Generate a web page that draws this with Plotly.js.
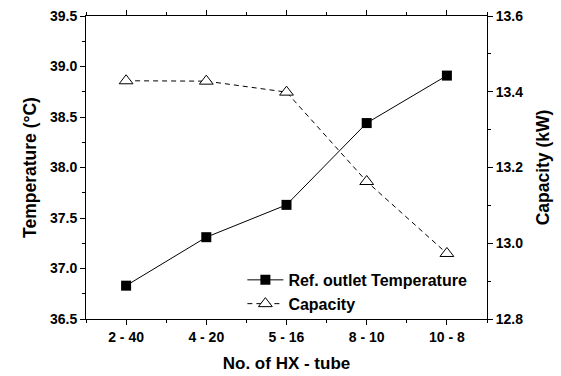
<!DOCTYPE html>
<html>
<head>
<meta charset="utf-8">
<script src="https://cdn.plot.ly/plotly-3.0.1.min.js"></script>
<style>html,body{margin:0;padding:0;background:#fff;}#chart{width:561px;height:376px;}</style>
</head>
<body>
<div id="chart"></div>
<script>
const categories = ["2 - 40", "4 - 20", "5 - 16", "8 - 10", "10 - 8"];
const refOutletTemperature = [36.83, 37.31, 37.63, 38.44, 38.91];
const capacity = [13.429, 13.428, 13.399, 13.163, 12.973];
const tempTickVals = [36.5, 37.0, 37.5, 38.0, 38.5, 39.0, 39.5];
const capTickVals = [12.8, 13.0, 13.2, 13.4, 13.6];

const FONT = "Liberation Sans, Arial, sans-serif";

const traces = [
  {
    x: categories, y: refOutletTemperature, name: "Ref. outlet Temperature",
    type: "scatter", mode: "lines+markers",
    line: {color: "#000", width: 1},
    marker: {symbol: "square", size: 10, color: "#000"},
    xaxis: "x", yaxis: "y"
  },
  {
    x: categories, y: capacity, name: "Capacity",
    type: "scatter", mode: "lines+markers",
    line: {color: "#000", width: 1, dash: "5px,4px"},
    marker: {symbol: "triangle-up", size: 12, color: "#fff", line: {color: "#000", width: 1}},
    xaxis: "x", yaxis: "y2"
  },
  {
    x: categories, y: refOutletTemperature, showlegend: false, hoverinfo: "skip",
    type: "scatter", mode: "markers", marker: {opacity: 0},
    xaxis: "x2", yaxis: "y"
  }
];

const layout = {
  width: 561, height: 376,
  margin: {l: 86, r: 74, t: 16, b: 57},
  paper_bgcolor: "#fff", plot_bgcolor: "#fff",
  font: {family: FONT, color: "#000"},
  showlegend: true,
  legend: {
    x: 0.39, y: 0.185, xanchor: "left", yanchor: "top",
    bgcolor: "rgba(0,0,0,0)", borderwidth: 0,
    itemwidth: 36,
    font: {family: FONT, size: 16, color: "#000", weight: "bold"},
    tracegroupgap: 0
  },
  xaxis: {
    type: "category", categoryorder: "array", categoryarray: categories,
    range: [-0.5, 4.5],
    showline: true, linecolor: "#000", linewidth: 1, mirror: "ticks",
    ticks: "outside", ticklen: 5, tickcolor: "#000", tickwidth: 1,
    showgrid: false, zeroline: false,
    tickfont: {family: FONT, size: 14, weight: "bold"},
    title: {text: "No. of HX - tube", font: {family: FONT, size: 17, weight: "bold"}, standoff: 13}
  },
  xaxis2: {
    type: "category", categoryorder: "array", categoryarray: categories,
    overlaying: "x", anchor: "y", side: "bottom",
    range: [-0.5, 4.5], tickson: "boundaries",
    showline: false, mirror: "ticks", ticks: "outside", ticklen: 3, tickcolor: "#000", tickwidth: 1,
    showticklabels: false, showgrid: false, zeroline: false
  },
  yaxis: {
    range: [36.5, 39.5], tickvals: tempTickVals, tickformat: ".1f",
    showline: true, linecolor: "#000", linewidth: 1, mirror: true,
    ticks: "outside", ticklen: 5, tickcolor: "#000", tickwidth: 1,
    minor: {dtick: 0.25, ticks: "outside", ticklen: 3, tickcolor: "#000", showgrid: false},
    showgrid: false, zeroline: false,
    tickfont: {family: FONT, size: 14, weight: "bold"},
    title: {text: "Temperature (°C)", font: {family: FONT, size: 17.5, weight: "bold"}, standoff: 8}
  },
  yaxis2: {
    overlaying: "y", side: "right", anchor: "x",
    range: [12.8, 13.6], tickvals: capTickVals, tickformat: ".1f",
    showline: true, linecolor: "#000", linewidth: 1,
    ticks: "outside", ticklen: 5, tickcolor: "#000", tickwidth: 1,
    minor: {dtick: 0.1, ticks: "outside", ticklen: 3, tickcolor: "#000", showgrid: false},
    showgrid: false, zeroline: false,
    tickfont: {family: FONT, size: 14, weight: "bold"},
    title: {text: "Capacity (kW)", font: {family: FONT, size: 17.5, weight: "bold"}, standoff: 14}
  }
};

Plotly.newPlot("chart", traces, layout, {displayModeBar: false, staticPlot: true});
</script>
</body>
</html>
